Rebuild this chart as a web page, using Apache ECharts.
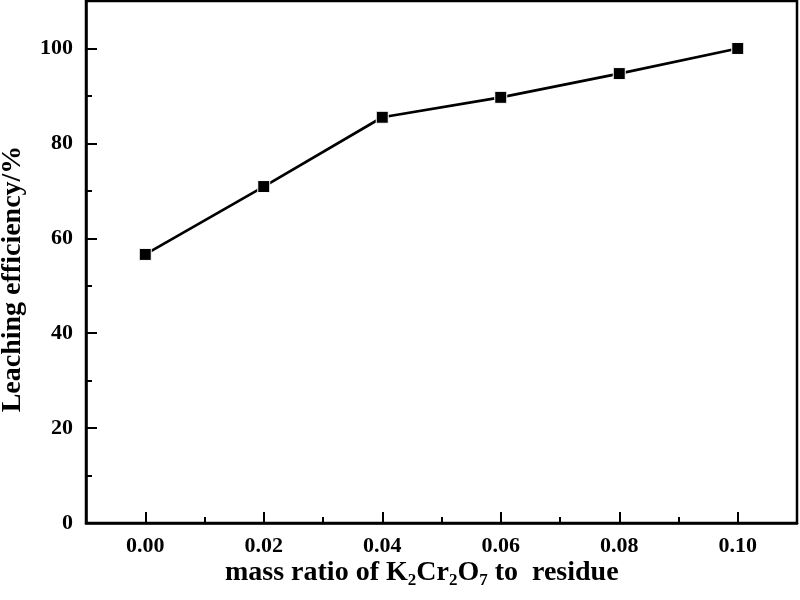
<!DOCTYPE html>
<html>
<head>
<meta charset="utf-8">
<script src="https://cdn.jsdelivr.net/npm/echarts@6/dist/echarts.min.js"></script>
<style>html,body{margin:0;padding:0;background:#fff}#c{width:800px;height:600px}</style>
</head>
<body>
<div id="c"></div>
<script>
const massRatio = [0.00, 0.02, 0.04, 0.06, 0.08, 0.10];
const leachingEfficiency = [56.6, 70.9, 85.5, 89.7, 94.7, 100.0];
const xTickLabels = [0.00, 0.02, 0.04, 0.06, 0.08, 0.10];
const xMinorTicks = [0.01, 0.03, 0.05, 0.07, 0.09];
const yTickLabels = [0, 20, 40, 60, 80, 100];
const yMinorTicks = [10, 30, 50, 70, 90];

const font = 'Liberation Serif';
const chart = echarts.init(document.getElementById('c'));
const grid = {left: 86, top: 1, right: 3, bottom: 77, show: true, borderColor: '#000', borderWidth: 2.5, containLabel: false};
const xBase = {type: 'value', min: -0.01, max: 0.11, gridIndex: 0, position: 'bottom', splitLine: {show: false}};
const yBase = {type: 'value', min: 0, max: 110, gridIndex: 0, position: 'left', splitLine: {show: false}};
chart.setOption({
  animation: false,
  backgroundColor: '#fff',
  grid: grid,
  xAxis: [
    Object.assign({}, xBase, {
      axisLine: {show: true, onZero: false, lineStyle: {color: '#000', width: 2.5}},
      axisTick: {show: true, inside: true, length: 11, lineStyle: {color: '#000', width: 2}, customValues: xTickLabels},
      axisLabel: {show: true, customValues: xTickLabels, margin: 12, color: '#000', fontFamily: font, fontWeight: 'bold', fontSize: 22,
        formatter: v => v.toFixed(2)}
    }),
    Object.assign({}, xBase, {
      axisLine: {show: false, onZero: false},
      axisTick: {show: true, inside: true, length: 6, lineStyle: {color: '#000', width: 2}, customValues: xMinorTicks},
      axisLabel: {show: false}
    })
  ],
  yAxis: [
    Object.assign({}, yBase, {
      axisLine: {show: true, onZero: false, lineStyle: {color: '#000', width: 2.5}},
      axisTick: {show: true, inside: true, length: 11, lineStyle: {color: '#000', width: 2}, customValues: yTickLabels},
      axisLabel: {show: true, customValues: yTickLabels, margin: 13, color: '#000', fontFamily: font, fontWeight: 'bold', fontSize: 22}
    }),
    Object.assign({}, yBase, {
      axisLine: {show: false, onZero: false},
      axisTick: {show: true, inside: true, length: 6, lineStyle: {color: '#000', width: 2}, customValues: yMinorTicks},
      axisLabel: {show: false}
    })
  ],
  graphic: [
    {
      type: 'text', left: 225, top: 558,
      style: {
        text: '{a|mass ratio of K}{s|2}{a|Cr}{s|2}{a|O}{s|7}{a| to  residue}',
        rich: {
          a: {fontFamily: font, fontWeight: 'bold', fontSize: 28, fill: '#000', lineHeight: 30, verticalAlign: 'top'},
          s: {fontFamily: font, fontWeight: 'bold', fontSize: 17, fill: '#000', lineHeight: 30, verticalAlign: 'bottom', padding: [14, 0, 0, 0]}
        }
      }
    },
    {
      type: 'text', x: 13, y: 279, rotation: Math.PI / 2,
      style: {
        text: 'Leaching efficiency/%', fontFamily: font, fontWeight: 'bold', fontSize: 28, fill: '#000',
        align: 'center', verticalAlign: 'middle'
      }
    }
  ],
  series: [{
    type: 'line',
    xAxisIndex: 0, yAxisIndex: 0,
    data: massRatio.map((x, i) => [x, leachingEfficiency[i]]),
    symbol: 'rect', symbolSize: 12,
    lineStyle: {color: '#000', width: 2.7},
    itemStyle: {color: '#000', borderColor: '#fff', borderWidth: 1},
    z: 5
  }]
});
</script>
</body>
</html>
